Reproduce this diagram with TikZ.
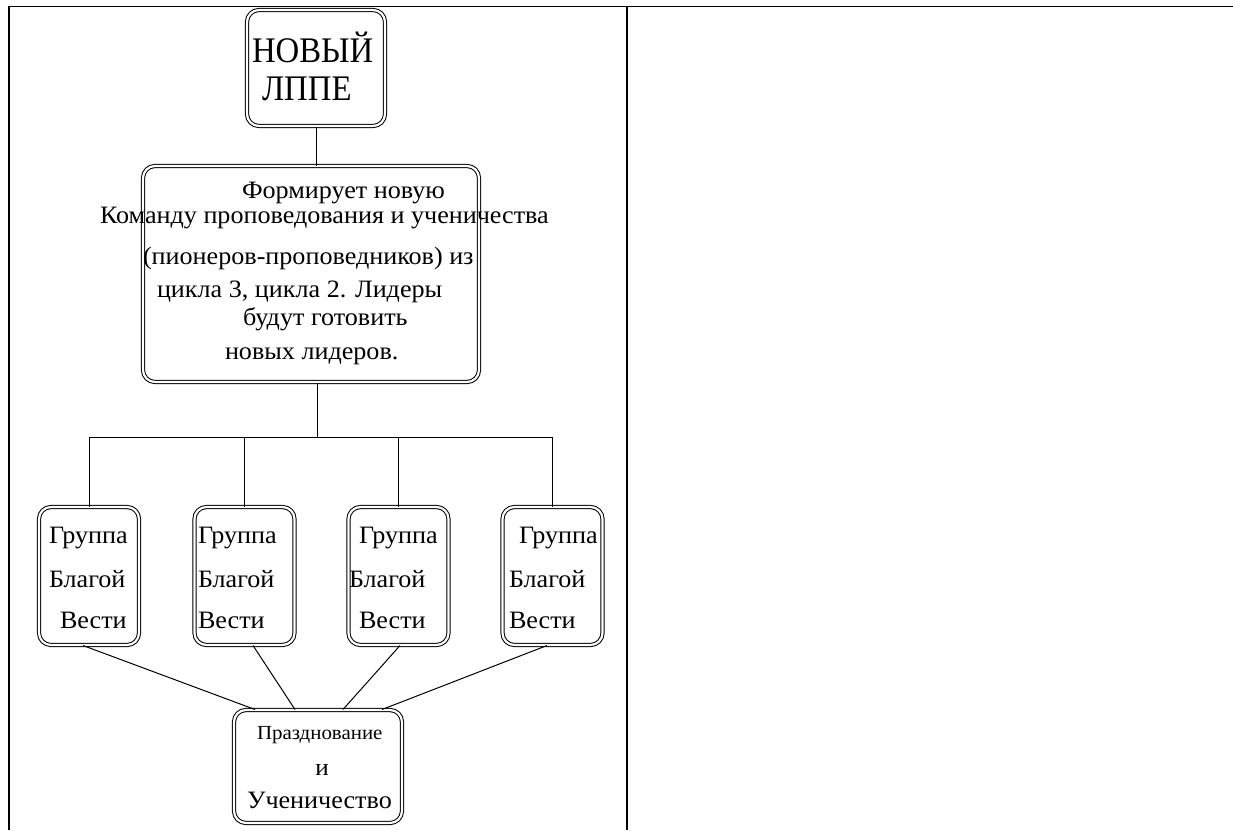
\documentclass[tikz,border=0pt]{standalone}
\usepackage{fontspec}
\setmainfont{Liberation Serif}
\usetikzlibrary{calc}
\newcommand\wxs[1]{\scalebox{1.045}[1]{#1}}
\newcommand\nxs[1]{\scalebox{0.91}[1]{#1}}
\tikzset{
  dbox/.style={draw, double, double distance=2.2pt, line width=1pt, rounded corners=12pt, inner sep=0pt},
  conn/.style={line width=1pt},
  frame/.style={line width=2pt},
  txt/.style={anchor=base west, inner sep=0pt, outer sep=0pt},
}
\begin{document}
\begin{tikzpicture}[x=1pt,y=-1pt]
\useasboundingbox (0,0) rectangle (1233,830);
% table frame
\draw[line width=1.4pt] (8,6.5) -- (1233,6.5);
\draw[frame] (8.5,6) -- (8.5,830);
\draw[frame] (627,6) -- (627,830);
% boxes
\node[dbox, minimum width=138pt, minimum height=116pt] (top) at (316,68) {};
\node[dbox, minimum width=336pt, minimum height=216pt] (main) at (311,274) {};
\node[dbox, minimum width=100pt, minimum height=138pt] (g1) at (89,576) {};
\node[dbox, minimum width=100pt, minimum height=138pt] (g2) at (244.5,576) {};
\node[dbox, minimum width=100pt, minimum height=138pt] (g3) at (398.5,576) {};
\node[dbox, minimum width=100pt, minimum height=138pt] (g4) at (552.5,576) {};
\node[dbox, minimum width=168pt, minimum height=113pt] (fin) at (318,766.5) {};
% texts
\node[txt, font=\fontsize{36}{36}\selectfont] (t1) at (252,62) {\nxs{НОВЫЙ}};
\node[txt, font=\fontsize{36}{36}\selectfont] (t2) at (262,100) {\nxs{ЛППЕ}};
\begin{scope}[every node/.style={txt, font=\fontsize{25}{25}\selectfont}]
\node (m1) at (242,198) {\wxs{Формирует новую}};
\node (m2) at (100,223.5) {\wxs{Команду проповедования и ученичества}};
\node (m3) at (143,264) {\wxs{(пионеров-проповедников) из}};
\node (m4) at (157,297) {\wxs{цикла 3, цикла 2. Лидеры}};
\node (m5) at (243,325.5) {\wxs{будут готовить}};
\node (m6) at (225,359) {\wxs{новых лидеров.}};
\node (a1) at (49,543) {\wxs{Группа}};
\node (a2) at (49,587) {\wxs{Благой}};
\node (a3) at (60,628) {\wxs{Вести}};
\node (b1) at (198,543) {\wxs{Группа}};
\node (b2) at (198,587) {\wxs{Благой}};
\node (b3) at (198,628) {\wxs{Вести}};
\node (c1) at (359,543) {\wxs{Группа}};
\node (c2) at (349,587) {\wxs{Благой}};
\node (c3) at (359,628) {\wxs{Вести}};
\node (d1) at (519,543) {\wxs{Группа}};
\node (d2) at (509,587) {\wxs{Благой}};
\node (d3) at (509,628) {\wxs{Вести}};
\end{scope}
\node[txt, font=\fontsize{20}{20}\selectfont] (f1) at (257,739) {\wxs{Празднование}};
\node[txt, font=\fontsize{24}{24}\selectfont, anchor=base] (f2) at (322,775) {\wxs{и}};
\node[txt, font=\fontsize{25}{25}\selectfont] (f3) at (247,808) {\wxs{Ученичество}};
% connectors
\coordinate (j) at (317,437);
\coordinate (busL) at (89,437);
\coordinate (busR) at (552,437);
\draw[conn] (top.south -| 316,0) -- (316,0 |- main.north);
\draw[conn] (j |- main.south) -- (j);
\draw[conn] (busL) -- (busR);
\foreach \g in {g1,g2,g3,g4} \draw[conn] (\g.north |- busL) -- (\g.north);
\draw[conn] ($(g1.south)+(-6,0)$) -- ($(fin.north)+(-63,0)$);
\draw[conn] ($(g2.south)+(8.5,0)$) -- ($(fin.north)+(-23,0)$);
\draw[conn] ($(g3.south)+(1.5,0)$) -- ($(fin.north)+(25,0)$);
\draw[conn] ($(g4.south)+(-5.5,0)$) -- ($(fin.north)+(64,0)$);
\end{tikzpicture}
\end{document}
